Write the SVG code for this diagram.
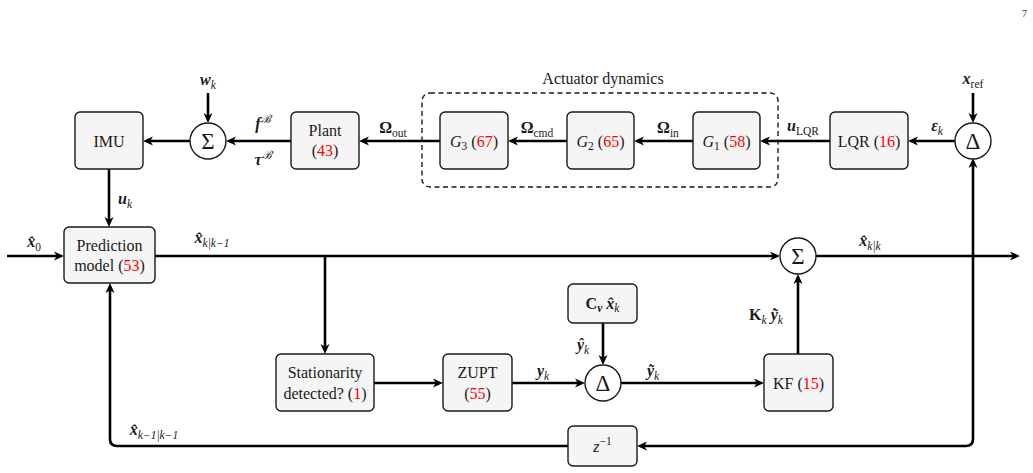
<svg xmlns="http://www.w3.org/2000/svg" width="1033" height="473" viewBox="0 0 1033 473">
<style>
.box{fill:#f5f5f5;stroke:#1a1a1a;stroke-width:1.4}
.circ{fill:#fff;stroke:#1a1a1a;stroke-width:1.4}
.dash{fill:none;stroke:#1a1a1a;stroke-width:1.4;stroke-dasharray:5,3.5}
.wire{fill:none;stroke:#000;stroke-width:2.6}
text{font-family:'Liberation Serif','Times New Roman','DejaVu Serif',serif}
.t{font-size:16px;fill:#1a1a1a;text-anchor:middle}
.m{font-size:16px}
.bi{font-style:italic;font-weight:bold}
.it{font-style:italic}
.b{font-weight:bold}
.s{font-size:11.5px}
.red{fill:#ff0000}
.op{font-size:23px;fill:#1a1a1a;text-anchor:middle}
</style>
<defs>
<marker id="ah" viewBox="0 0 10 10" refX="5" refY="5" markerWidth="10" markerHeight="10" markerUnits="userSpaceOnUse" orient="auto">
<path d="M10,5 L0,0.5 L2.8,5 L0,9.5 Z" fill="#000"/>
</marker>
</defs>
<text x="1022" y="17" style="font-size:10px;fill:#333">7</text>

<g id="connectors">
<line class="wire" x1="208" y1="93" x2="208" y2="118" marker-end="url(#ah)"/>
<line class="wire" x1="291" y1="141" x2="231" y2="141" marker-end="url(#ah)"/>
<line class="wire" x1="190" y1="141" x2="148" y2="141" marker-end="url(#ah)"/>
<line class="wire" x1="109" y1="169" x2="109" y2="222" marker-end="url(#ah)"/>
<line class="wire" x1="440" y1="141" x2="364" y2="141" marker-end="url(#ah)"/>
<line class="wire" x1="567" y1="141" x2="513" y2="141" marker-end="url(#ah)"/>
<line class="wire" x1="693" y1="141" x2="639" y2="141" marker-end="url(#ah)"/>
<line class="wire" x1="830" y1="141" x2="765" y2="141" marker-end="url(#ah)"/>
<line class="wire" x1="955" y1="141" x2="913" y2="141" marker-end="url(#ah)"/>
<line class="wire" x1="973" y1="93" x2="973" y2="118" marker-end="url(#ah)"/>
<line class="wire" x1="7" y1="256" x2="59" y2="256" marker-end="url(#ah)"/>
<line class="wire" x1="155" y1="256" x2="775" y2="256" marker-end="url(#ah)"/>
<line class="wire" x1="325" y1="256" x2="325" y2="349" marker-end="url(#ah)"/>
<line class="wire" x1="816" y1="256" x2="1015" y2="256" marker-end="url(#ah)"/>
<line class="wire" x1="374" y1="383" x2="438" y2="383" marker-end="url(#ah)"/>
<line class="wire" x1="512" y1="383" x2="580" y2="383" marker-end="url(#ah)"/>
<line class="wire" x1="603" y1="323" x2="603" y2="360" marker-end="url(#ah)"/>
<line class="wire" x1="621" y1="383" x2="759" y2="383" marker-end="url(#ah)"/>
<line class="wire" x1="798" y1="354" x2="798" y2="279" marker-end="url(#ah)"/>
<path class="wire" d="M973,256 L973,163" marker-end="url(#ah)"/>
<path class="wire" d="M973,255 L973,439 Q973,446 966,446 L642,446" marker-end="url(#ah)"/>
<path class="wire" d="M568,446 L117,446 Q110,446 110,439 L110,288" marker-end="url(#ah)"/>
</g>

<g id="actuator-dynamics">
<rect class="dash" x="422" y="93" width="356" height="94" rx="8"/>
<text class="t" x="603" y="84">Actuator dynamics</text>
</g>

<g id="imu">
<rect class="box" x="75" y="112" width="68" height="57" rx="5"/>
<text class="t" x="109" y="146.5">IMU</text>
</g>
<g id="sum1">
<circle class="circ" cx="208" cy="141" r="18"/>
<text class="op" x="208" y="149">Σ</text>
</g>
<g id="plant">
<rect class="box" x="291" y="112" width="68" height="57" rx="5"/>
<text class="t" x="325" y="135.5">Plant</text>
<text class="t" x="325" y="155.5">(<tspan class="red">43</tspan>)</text>
</g>
<g id="g3">
<rect class="box" x="440" y="112" width="68" height="57" rx="5"/>
<text class="t" x="474" y="146.5"><tspan class="it">G</tspan><tspan class="s" dy="3.5">3</tspan><tspan dy="-3.5"> (</tspan><tspan class="red">67</tspan>)</text>
</g>
<g id="g2">
<rect class="box" x="567" y="112" width="67" height="57" rx="5"/>
<text class="t" x="600.5" y="146.5"><tspan class="it">G</tspan><tspan class="s" dy="3.5">2</tspan><tspan dy="-3.5"> (</tspan><tspan class="red">65</tspan>)</text>
</g>
<g id="g1">
<rect class="box" x="693" y="112" width="67" height="57" rx="5"/>
<text class="t" x="726.5" y="146.5"><tspan class="it">G</tspan><tspan class="s" dy="3.5">1</tspan><tspan dy="-3.5"> (</tspan><tspan class="red">58</tspan>)</text>
</g>
<g id="lqr">
<rect class="box" x="830" y="112" width="78" height="57" rx="5"/>
<text class="t" x="869" y="146.5">LQR (<tspan class="red">16</tspan>)</text>
</g>
<g id="delta1">
<circle class="circ" cx="973" cy="141" r="18"/>
<text class="op" x="973" y="149">Δ</text>
</g>
<g id="prediction-model">
<rect class="box" x="64" y="227" width="91" height="56" rx="5"/>
<text class="t" x="109.5" y="250.5">Prediction</text>
<text class="t" x="109.5" y="270.5">model (<tspan class="red">53</tspan>)</text>
</g>
<g id="sum2">
<circle class="circ" cx="798" cy="256" r="18"/>
<text class="op" x="798" y="264">Σ</text>
</g>
<g id="cv">
<rect class="box" x="568" y="284" width="69" height="39" rx="5"/>
<text class="t m" x="602.5" y="308.5"><tspan class="b">C</tspan><tspan class="s bi" dy="3.5">v</tspan><tspan class="bi" dy="-3.5"> x̂</tspan><tspan class="s it" dy="3.5">k</tspan></text>
</g>
<g id="stationarity">
<rect class="box" x="276" y="354" width="98" height="57" rx="5"/>
<text class="t" x="325" y="377.5">Stationarity</text>
<text class="t" x="325" y="398.5">detected? (<tspan class="red">1</tspan>)</text>
</g>
<g id="zupt">
<rect class="box" x="443" y="354" width="69" height="57" rx="5"/>
<text class="t" x="477.5" y="377.5">ZUPT</text>
<text class="t" x="477.5" y="398.5">(<tspan class="red">55</tspan>)</text>
</g>
<g id="delta2">
<circle class="circ" cx="603" cy="383" r="18"/>
<text class="op" x="603" y="391">Δ</text>
</g>
<g id="kf">
<rect class="box" x="764" y="354" width="69" height="57" rx="5"/>
<text class="t" x="798.5" y="388.5">KF (<tspan class="red">15</tspan>)</text>
</g>
<g id="delay">
<rect class="box" x="568" y="426" width="69" height="40" rx="5"/>
<text class="t m" x="602.5" y="451.5"><tspan class="it">z</tspan><tspan class="s" dy="-6.5">−1</tspan></text>
</g>

<g id="labels">
<text class="t m" x="208" y="85"><tspan class="bi">w</tspan><tspan class="s it" dy="3.5">k</tspan></text>
<text class="t m" x="263" y="129"><tspan class="bi">f</tspan><tspan class="s it" dy="-6.5">ℬ</tspan></text>
<text class="t m" x="263" y="165"><tspan class="bi">τ</tspan><tspan class="s it" dy="-6.5">ℬ</tspan></text>
<text class="t m" x="393" y="133"><tspan class="b">Ω</tspan><tspan class="s" dy="3.5">out</tspan></text>
<text class="t m" x="537" y="133"><tspan class="b">Ω</tspan><tspan class="s" dy="3.5">cmd</tspan></text>
<text class="t m" x="668" y="133"><tspan class="b">Ω</tspan><tspan class="s" dy="3.5">in</tspan></text>
<text class="t m" x="803" y="131"><tspan class="bi">u</tspan><tspan class="s" dy="3.5">LQR</tspan></text>
<text class="t m" x="937" y="131"><tspan class="bi">ε</tspan><tspan class="s it" dy="3.5">k</tspan></text>
<text class="t m" x="973" y="84"><tspan class="bi">x</tspan><tspan class="s" dy="3.5">ref</tspan></text>
<text class="t m" x="125" y="204"><tspan class="bi">u</tspan><tspan class="s it" dy="3.5">k</tspan></text>
<text class="t m" x="34" y="247"><tspan class="bi">x̂</tspan><tspan class="s" dy="3.5">0</tspan></text>
<text class="t m" x="212" y="243"><tspan class="bi">x̂</tspan><tspan class="s it" dy="3.5">k|k−1</tspan></text>
<text class="t m" x="870" y="246"><tspan class="bi">x̂</tspan><tspan class="s it" dy="3.5">k|k</tspan></text>
<text class="t m" x="766" y="320"><tspan class="b">K</tspan><tspan class="s it" dy="3.5">k</tspan><tspan class="bi" dy="-3.5"> ỹ</tspan><tspan class="s it" dy="3.5">k</tspan></text>
<text class="t m" x="583" y="350"><tspan class="bi">ŷ</tspan><tspan class="s it" dy="3.5">k</tspan></text>
<text class="t m" x="543" y="376"><tspan class="bi">y</tspan><tspan class="s it" dy="3.5">k</tspan></text>
<text class="t m" x="653" y="376"><tspan class="bi">ỹ</tspan><tspan class="s it" dy="3.5">k</tspan></text>
<text class="t m" x="154" y="435"><tspan class="bi">x̂</tspan><tspan class="s it" dy="3.5">k−1|k−1</tspan></text>
</g>
</svg>
